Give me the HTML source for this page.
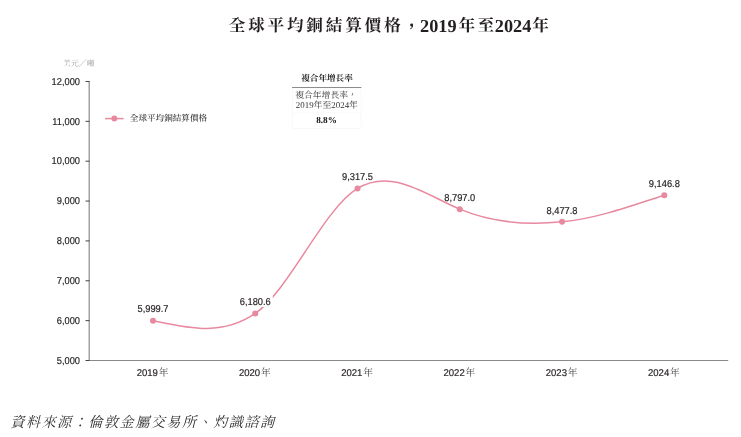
<!DOCTYPE html>
<html><head><meta charset="utf-8">
<style>
html,body{margin:0;padding:0;background:#fff;}
body{width:741px;height:437px;overflow:hidden;}
svg{display:block;text-rendering:geometricPrecision;}
.title{font-family:"Liberation Serif", "Noto Serif CJK TC", "Noto Serif CJK SC", serif;font-weight:bold;fill:#231f20;}
.tc{font-size:16.6px;letter-spacing:2.8px;}
.td{font-size:18.3px;letter-spacing:0;}
.tk{stroke:#444;stroke-width:1;}
.ax{stroke:#898989;stroke-width:1.2;}
.yl{stroke:#231f20;stroke-width:0.18px;font-family:"Liberation Sans", "Noto Sans CJK TC", sans-serif;font-size:10px;fill:#231f20;text-anchor:end;}
.vl{stroke:#231f20;stroke-width:0.18px;font-family:"Liberation Sans", "Noto Sans CJK TC", sans-serif;font-size:10px;fill:#231f20;text-anchor:middle;}
.xl{stroke:#231f20;stroke-width:0.18px;font-family:"Liberation Sans", "Noto Sans CJK TC", sans-serif;font-size:9.8px;fill:#231f20;text-anchor:middle;}
.cj{font-family:"Liberation Serif", "Noto Serif CJK TC", "Noto Serif CJK SC", serif;fill:#444;font-size:10.3px;stroke:none;}
.pt{fill:#e8899f;}
.ln{fill:none;stroke:#e8899f;stroke-width:1.5;}
.unit{font-family:"Liberation Serif", "Noto Serif CJK TC", "Noto Serif CJK SC", serif;font-size:7.9px;fill:#a0a0a0;}
.lg{font-family:"Liberation Serif", "Noto Serif CJK TC", "Noto Serif CJK SC", serif;font-size:8.6px;fill:#2e2e2e;font-weight:500;}
.cg{font-family:"Liberation Serif", "Noto Serif CJK TC", "Noto Serif CJK SC", serif;font-size:8.6px;fill:#333;text-anchor:middle;}
.src{font-family:"Liberation Serif", "Noto Serif CJK TC", "Noto Serif CJK SC", serif;font-size:14.2px;fill:#333;font-style:italic;letter-spacing:1.42px;}
</style></head><body>
<svg width="741" height="437" viewBox="0 0 741 437">
<text y="31" class="title"><tspan x="228.8" class="tc">全球平均銅結算價格</tspan><tspan y="32.5" class="tc">，</tspan><tspan x="420.0" y="31.8" class="td">2019</tspan><tspan x="458.6" y="31" class="tc">年</tspan><tspan x="477.6" class="tc">至</tspan><tspan x="494.8" y="31.8" class="td">2024</tspan><tspan x="532.2" y="31" class="tc">年</tspan></text>
<text x="63" y="65.6" class="unit">美元／噸</text>
<line x1="89.2" y1="81" x2="89.2" y2="361" class="ax"/>
<line x1="88.6" y1="360.5" x2="728.2" y2="360.5" class="ax"/>
<line x1="85.5" y1="81.48" x2="89.5" y2="81.48" class="tk"/><text x="80" y="84.68" class="yl" transform="translate(80,0) scale(0.93,1) translate(-80,0)">12,000</text><line x1="85.5" y1="121.34" x2="89.5" y2="121.34" class="tk"/><text x="80" y="124.54" class="yl" transform="translate(80,0) scale(0.93,1) translate(-80,0)">11,000</text><line x1="85.5" y1="161.20" x2="89.5" y2="161.20" class="tk"/><text x="80" y="164.40" class="yl" transform="translate(80,0) scale(0.93,1) translate(-80,0)">10,000</text><line x1="85.5" y1="201.06" x2="89.5" y2="201.06" class="tk"/><text x="80" y="204.26" class="yl" transform="translate(80,0) scale(0.93,1) translate(-80,0)">9,000</text><line x1="85.5" y1="240.92" x2="89.5" y2="240.92" class="tk"/><text x="80" y="244.12" class="yl" transform="translate(80,0) scale(0.93,1) translate(-80,0)">8,000</text><line x1="85.5" y1="280.78" x2="89.5" y2="280.78" class="tk"/><text x="80" y="283.98" class="yl" transform="translate(80,0) scale(0.93,1) translate(-80,0)">7,000</text><line x1="85.5" y1="320.64" x2="89.5" y2="320.64" class="tk"/><text x="80" y="323.84" class="yl" transform="translate(80,0) scale(0.93,1) translate(-80,0)">6,000</text><line x1="85.5" y1="360.50" x2="89.5" y2="360.50" class="tk"/><text x="80" y="363.70" class="yl" transform="translate(80,0) scale(0.93,1) translate(-80,0)">5,000</text>
<path d="M153.00,320.65 C187.09,327.69 221.17,336.86 255.26,313.44 C289.35,290.03 323.43,209.16 357.52,188.40 C391.61,167.65 425.69,194.75 459.78,209.15 C493.87,223.55 527.95,225.18 562.04,221.87 C596.13,218.57 630.21,206.31 664.30,195.21" class="ln"/>
<rect x="238.2" y="295.4" width="34.5" height="11.6" fill="#fff"/>
<circle cx="153.00" cy="320.65" r="3" class="pt"/><circle cx="255.26" cy="313.44" r="3" class="pt"/><circle cx="357.52" cy="188.40" r="3" class="pt"/><circle cx="459.78" cy="209.15" r="3" class="pt"/><circle cx="562.04" cy="221.87" r="3" class="pt"/><circle cx="664.30" cy="195.21" r="3" class="pt"/>
<text x="153.00" y="312.35" class="vl" transform="translate(153.00,0) scale(0.93,1) translate(-153.00,0)">5,999.7</text><text x="255.26" y="305.14" class="vl" transform="translate(255.26,0) scale(0.93,1) translate(-255.26,0)">6,180.6</text><text x="357.52" y="180.10" class="vl" transform="translate(357.52,0) scale(0.93,1) translate(-357.52,0)">9,317.5</text><text x="459.78" y="200.85" class="vl" transform="translate(459.78,0) scale(0.93,1) translate(-459.78,0)">8,797.0</text><text x="562.04" y="213.57" class="vl" transform="translate(562.04,0) scale(0.93,1) translate(-562.04,0)">8,477.8</text><text x="664.30" y="186.91" class="vl" transform="translate(664.30,0) scale(0.93,1) translate(-664.30,0)">9,146.8</text>
<text x="152.60" y="375.9" class="xl" transform="translate(153.00,0) scale(0.975,1) translate(-153.00,0)">2019<tspan class="cj" dx="0.6">年</tspan></text><text x="254.86" y="375.9" class="xl" transform="translate(255.26,0) scale(0.975,1) translate(-255.26,0)">2020<tspan class="cj" dx="0.6">年</tspan></text><text x="357.12" y="375.9" class="xl" transform="translate(357.52,0) scale(0.975,1) translate(-357.52,0)">2021<tspan class="cj" dx="0.6">年</tspan></text><text x="459.38" y="375.9" class="xl" transform="translate(459.78,0) scale(0.975,1) translate(-459.78,0)">2022<tspan class="cj" dx="0.6">年</tspan></text><text x="561.64" y="375.9" class="xl" transform="translate(562.04,0) scale(0.975,1) translate(-562.04,0)">2023<tspan class="cj" dx="0.6">年</tspan></text><text x="663.90" y="375.9" class="xl" transform="translate(664.30,0) scale(0.975,1) translate(-664.30,0)">2024<tspan class="cj" dx="0.6">年</tspan></text>
<line x1="105" y1="118.6" x2="123.6" y2="118.6" class="ln"/>
<circle cx="114.3" cy="118.6" r="3" class="pt"/>
<text x="129.8" y="121.3" class="lg">全球平均銅結算價格</text>
<text x="327" y="81" class="cg" font-weight="bold" style="fill:#1e1e1e">複合年增長率</text>
<line x1="292.2" y1="87.5" x2="361.3" y2="87.5" stroke="#444" stroke-width="1.1"/>
<rect x="292.6" y="88" width="68.4" height="40.6" fill="none" stroke="#f7f8f7" stroke-width="0.8"/>
<rect x="323.2" y="100.8" width="7.6" height="7.8" fill="#f1f1f1"/>
<line x1="292.6" y1="112.7" x2="361" y2="112.7" stroke="#f7f8f7" stroke-width="0.8"/>
<text x="326" y="97.6" class="cg" style="font-size:8.8px">複合年增長率，</text>
<text x="326.9" y="107.8" class="cg" style="font-size:8.9px">2019年至2024年</text>
<text x="326.5" y="123" class="cg" font-weight="bold" style="font-size:9.2px;fill:#111">8.8%</text>
<text x="10.3" y="427.2" class="src">資料來源：倫敦金屬交易所、灼識諮詢</text>
</svg>
</body></html>
